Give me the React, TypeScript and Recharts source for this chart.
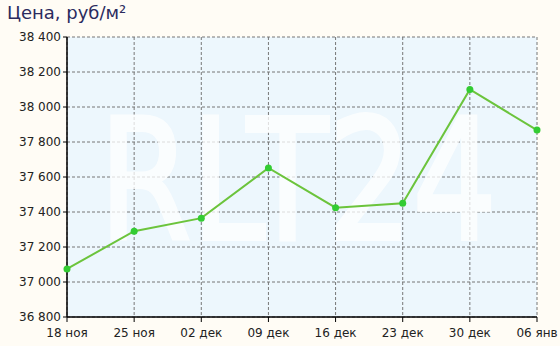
import {
  LineChart,
  Line,
  XAxis,
  YAxis,
  CartesianGrid,
  Customized,
} from "recharts";

const dates = ["18 ноя", "25 ноя", "02 дек", "09 дек", "16 дек", "23 дек", "30 дек", "06 янв"];
const prices = [37075, 37290, 37365, 37652, 37425, 37450, 38100, 37868];
const yTicks = [36800, 37000, 37200, 37400, 37600, 37800, 38000, 38200, 38400];

const data = dates.map((date, i) => ({ date, price: prices[i] }));

const fmt = (v: number) => {
  const s = String(v);
  return s.slice(0, s.length - 3) + " " + s.slice(-3);
};

const Watermark = (props: any) => {
  const off = props.offset || { left: 67, top: 37 };
  return (
    <g opacity={0.75}>
      <text
        x={off.left + 32}
        y={off.top + 202}
        fill="#ffffff"
        stroke="#ffffff"
        strokeWidth={4}
        fontFamily="DejaVu Sans, sans-serif"
        fontSize={168}
        textLength={398}
        lengthAdjust="spacingAndGlyphs"
      >
        RLT24
      </text>
    </g>
  );
};

export default function App() {
  return (
    <div
      style={{
        position: "fixed",
        left: 0,
        top: 0,
        width: 560,
        height: 346,
        background: "#fffcf5",
        fontFamily: "DejaVu Sans, sans-serif",
      }}
    >
      <div
        style={{
          position: "absolute",
          left: 7,
          top: 2,
          fontSize: 18,
          color: "#2b2b5e",
        }}
      >
        Цена, руб/м²
      </div>
      <LineChart
        width={560}
        height={346}
        data={data}
        margin={{ top: 37, right: 23, bottom: 4, left: 7 }}
      >
        <CartesianGrid
          stroke="#777777"
          strokeDasharray="3 2"
          fill="#edf7fd"
          fillOpacity={1}
        />
        <Customized component={Watermark} />
        <XAxis
          dataKey="date"
          axisLine={{ stroke: "#000", strokeWidth: 1.5 }}
          tickLine={{ stroke: "#000" }}
          tickSize={5}
          tickMargin={6}
          height={25}
          interval={0}
          tick={{ fill: "#222", fontSize: 12 }}
        />
        <XAxis
          xAxisId="top"
          orientation="top"
          dataKey="date"
          axisLine={{ stroke: "#000", strokeWidth: 1.5 }}
          tick={false}
          tickLine={false}
          height={0}
        />
        <YAxis
          domain={[36800, 38400]}
          ticks={yTicks}
          tickFormatter={fmt}
          axisLine={{ stroke: "#000", strokeWidth: 1.5 }}
          tickLine={{ stroke: "#000" }}
          tickSize={4}
          tickMargin={2}
          width={60}
          interval={0}
          tick={{ fill: "#222", fontSize: 12 }}
        />
        <YAxis
          yAxisId="right"
          orientation="right"
          domain={[36800, 38400]}
          axisLine={{ stroke: "#000", strokeWidth: 1.5 }}
          tick={false}
          tickLine={false}
          width={0}
        />
        <Line
          dataKey="price"
          stroke="#6cc43c"
          strokeWidth={2}
          dot={{ r: 3.5, fill: "#33cc33", stroke: "#33cc33", strokeWidth: 0 }}
          activeDot={false}
          isAnimationActive={false}
        />
      </LineChart>
    </div>
  );
}
